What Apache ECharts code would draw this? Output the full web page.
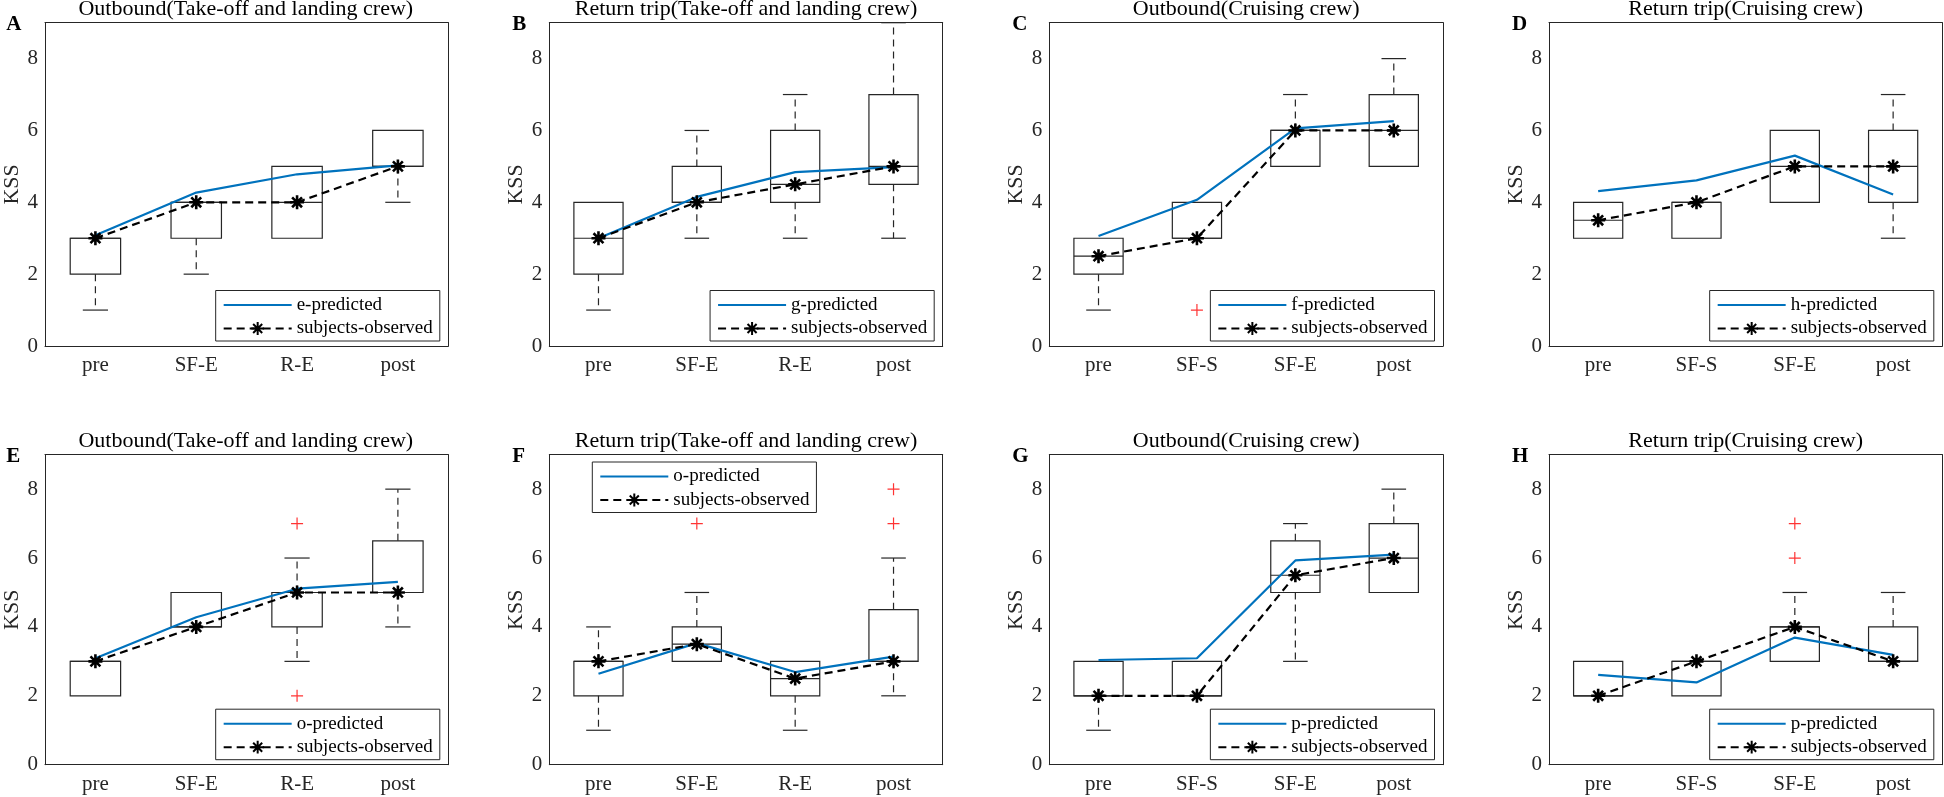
<!DOCTYPE html>
<html><head><meta charset="utf-8">
<script src="https://cdn.jsdelivr.net/npm/echarts@6/dist/echarts.min.js"></script>
<style>html,body{margin:0;padding:0;background:#fff}#c{width:1944px;height:797px}</style>
</head><body><div id="c"></div>
<script>
// ---------------- data ----------------
const catsTL = ['pre', 'SF-E', 'R-E', 'post'];
const catsCR = ['pre', 'SF-S', 'SF-E', 'post'];
const panelCats = [catsTL, catsTL, catsCR, catsCR, catsTL, catsTL, catsCR, catsCR];
const panelTitles = [
  'Outbound(Take-off and landing crew)', 'Return trip(Take-off and landing crew)',
  'Outbound(Cruising crew)', 'Return trip(Cruising crew)',
  'Outbound(Take-off and landing crew)', 'Return trip(Take-off and landing crew)',
  'Outbound(Cruising crew)', 'Return trip(Cruising crew)'
];
const panelLetters = ['A', 'B', 'C', 'D', 'E', 'F', 'G', 'H'];
const predictedNames = ['e-predicted', 'g-predicted', 'f-predicted', 'h-predicted',
  'o-predicted', 'o-predicted', 'p-predicted', 'p-predicted'];
const observedName = 'subjects-observed';
const yAxisName = 'KSS';

// box statistics per category: [lower whisker, q1, median, q3, upper whisker]
const boxA = [[1, 2, 3, 3, 3], [2, 3, 4, 4, 4], [3, 3, 4, 5, 5], [4, 5, 5, 6, 6]];
const boxB = [[1, 2, 3, 4, 4], [3, 4, 4, 5, 6], [3, 4, 4.5, 6, 7], [3, 4.5, 5, 7, 9]];
const boxC = [[1, 2, 2.5, 3, 3], [3, 3, 3, 4, 4], [5, 5, 6, 6, 7], [5, 5, 6, 7, 8]];
const boxD = [[3, 3, 3.5, 4, 4], [3, 3, 4, 4, 4], [4, 4, 5, 6, 6], [3, 4, 5, 6, 7]];
const boxE = [[2, 2, 3, 3, 3], [4, 4, 4, 5, 5], [3, 4, 5, 5, 6], [4, 5, 5, 6.5, 8]];
const boxF = [[1, 2, 3, 3, 4], [3, 3, 3.5, 4, 5], [1, 2, 2.5, 3, 3], [2, 3, 3, 4.5, 6]];
const boxG = [[1, 2, 2, 3, 3], [2, 2, 2, 3, 3], [3, 5, 5.5, 6.5, 7], [5, 5, 6, 7, 8]];
const boxH = [[2, 2, 2, 3, 3], [2, 2, 3, 3, 3], [3, 3, 4, 4, 5], [3, 3, 3, 4, 5]];

// model predictions (blue)
const predA = [3.08, 4.27, 4.78, 5.03];
const predB = [3.00, 4.15, 4.84, 4.98];
const predC = [3.06, 4.07, 6.06, 6.26];
const predD = [4.31, 4.61, 5.30, 4.22];
const predE = [3.09, 4.28, 5.11, 5.31];
const predF = [2.64, 3.53, 2.69, 3.14];
const predG = [3.04, 3.09, 5.93, 6.10];
const predH = [2.61, 2.39, 3.69, 3.19];

// observed medians (black dashed with asterisks)
const obsA = [3, 4, 4, 5];
const obsB = [3, 4, 4.5, 5];
const obsC = [2.5, 3, 6, 6];
const obsD = [3.5, 4, 5, 5];
const obsE = [3, 4, 5, 5];
const obsF = [3, 3.5, 2.5, 3];
const obsG = [2, 2, 5.5, 6];
const obsH = [2, 3, 4, 3];

// outliers: [category, value]
const outA = [];
const outB = [];
const outC = [['SF-S', 1]];
const outD = [];
const outE = [['R-E', 7], ['R-E', 2]];
const outF = [['SF-E', 7], ['post', 7], ['post', 8]];
const outG = [];
const outH = [['SF-E', 6], ['SF-E', 7]];

const yMin = 0, yMax = 9, yInterval = 2;

const boxes = [boxA, boxB, boxC, boxD, boxE, boxF, boxG, boxH];
const preds = [predA, predB, predC, predD, predE, predF, predG, predH];
const obss = [obsA, obsB, obsC, obsD, obsE, obsF, obsG, obsH];
const outs = [outA, outB, outC, outD, outE, outF, outG, outH];

// ---------------- layout & style ----------------
const W = 1944, H = 797;
const FONT = "'Liberation Serif', 'Times New Roman', serif";
const AX = '#262626';
const BLUE = '#0072BD';
const colLeft = [43.3, 549.3, 1049.3, 1549];
const colWidth = [405, 393.4, 393.7, 393.3];
const rowTop = [22.7, 454.7];
const rowHeight = [323.3, 310];
const legendTopLeft = [false, false, false, false, false, true, false, false];

const STAR = 'path://M0,-10L0,10M-10,0L10,0M-7.07,-7.07L7.07,7.07M-7.07,7.07L7.07,-7.07';
const PLUS = 'path://M0,-10L0,10M-10,0L10,0';

function renderBox(params, api) {
  const xi = api.value(0);
  const lo = api.value(1), q1 = api.value(2), md = api.value(3), q3 = api.value(4), hi = api.value(5);
  const band = api.size([1, 0])[0];
  const bw = band * 0.5, cw = band * 0.25;
  const cx = api.coord([xi, md])[0];
  const Y = v => api.coord([xi, v])[1];
  const solid = { stroke: AX, lineWidth: 1.2, fill: null };
  const dash = { stroke: AX, lineWidth: 1.2, lineDash: [7, 5] };
  const ch = [
    { type: 'rect', shape: { x: cx - bw / 2, y: Y(q3), width: bw, height: Y(q1) - Y(q3) }, style: Object.assign({}, solid, { fill: 'rgba(0,0,0,0)' }) },
    { type: 'line', shape: { x1: cx - bw / 2, y1: Y(md), x2: cx + bw / 2, y2: Y(md) }, style: solid }
  ];
  if (hi > q3) {
    ch.push({ type: 'line', shape: { x1: cx, y1: Y(q3), x2: cx, y2: Y(hi) }, style: dash });
    ch.push({ type: 'line', shape: { x1: cx - cw / 2, y1: Y(hi), x2: cx + cw / 2, y2: Y(hi) }, style: solid });
  }
  if (lo < q1) {
    ch.push({ type: 'line', shape: { x1: cx, y1: Y(q1), x2: cx, y2: Y(lo) }, style: dash });
    ch.push({ type: 'line', shape: { x1: cx - cw / 2, y1: Y(lo), x2: cx + cw / 2, y2: Y(lo) }, style: solid });
  }
  return { type: 'group', children: ch };
}

const grid = [], xAxis = [], yAxis = [], series = [], title = [], legend = [];
for (let i = 0; i < 8; i++) {
  const c = i % 4, r = Math.floor(i / 4);
  const g = { left: colLeft[c], top: rowTop[r], width: colWidth[c], height: rowHeight[r] };
  grid.push(g);
  const cats = panelCats[i];
  const lineX = { show: true, onZero: false, lineStyle: { color: AX, width: 1 } };
  xAxis.push({
    type: 'category', gridIndex: i, data: cats, position: 'bottom', boundaryGap: true,
    axisLine: lineX, axisTick: { inside: true, alignWithLabel: true, length: 5, lineStyle: { color: AX } },
    axisLabel: { fontFamily: FONT, fontSize: 21, color: AX, margin: 9 }, splitLine: { show: false }
  });
  xAxis.push({
    type: 'category', gridIndex: i, data: cats, position: 'top', boundaryGap: true,
    axisLine: lineX, axisTick: { inside: true, alignWithLabel: true, length: 5, lineStyle: { color: AX } },
    axisLabel: { show: false }, splitLine: { show: false }
  });
  yAxis.push({
    type: 'value', gridIndex: i, min: yMin, max: yMax, interval: yInterval, position: 'left',
    name: yAxisName, nameLocation: 'middle', nameGap: 22,
    nameTextStyle: { fontFamily: FONT, fontSize: 22, color: AX },
    axisLine: lineX, axisTick: { inside: true, length: 5, lineStyle: { color: AX } },
    axisLabel: { fontFamily: FONT, fontSize: 21, color: AX, margin: 7, formatter: v => (v % yInterval === 0 ? String(v) : '') },
    splitLine: { show: false }
  });
  yAxis.push({
    type: 'value', gridIndex: i, min: yMin, max: yMax, interval: yInterval, position: 'right',
    axisLine: lineX, axisTick: { inside: true, length: 5, lineStyle: { color: AX } },
    axisLabel: { show: false }, splitLine: { show: false }
  });
  const xa = 2 * i, ya = 2 * i;
  series.push({
    type: 'custom', xAxisIndex: xa, yAxisIndex: ya, renderItem: renderBox, z: 1,
    encode: { x: 0, y: [1, 2, 3, 4, 5] },
    data: boxes[i].map((b, k) => [k].concat(b)), silent: true
  });
  series.push({
    type: 'line', name: predictedNames[i], xAxisIndex: xa, yAxisIndex: ya, z: 3,
    data: preds[i], symbol: 'circle', symbolSize: 0, showSymbol: false,
    lineStyle: { color: BLUE, width: 2.2 }, itemStyle: { color: 'rgba(0,0,0,0)', borderWidth: 0 }
  });
  series.push({
    type: 'line', name: observedName, xAxisIndex: xa, yAxisIndex: ya, z: 4,
    data: obss[i], symbol: STAR, symbolSize: 14,
    lineStyle: { color: '#000', width: 2.2, type: [8, 5] },
    itemStyle: { color: '#000', borderColor: '#000', borderWidth: 2.6 }
  });
  if (outs[i].length) {
    series.push({
      type: 'scatter', xAxisIndex: xa, yAxisIndex: ya, z: 5,
      data: outs[i].map(o => [cats.indexOf(o[0]), o[1]]), symbol: PLUS, symbolSize: 12,
      itemStyle: { color: '#ff0000', borderColor: '#ff0000', borderWidth: 1.2 }
    });
  }
  title.push({
    text: panelTitles[i], left: g.left + g.width / 2, top: g.top - 13.4,
    textAlign: 'center', textVerticalAlign: 'middle', padding: 0,
    textStyle: { fontFamily: FONT, fontSize: 22, fontWeight: 'normal', color: '#000' }
  });
  title.push({
    text: panelLetters[i], left: g.left - 37, top: g.top + 2,
    textAlign: 'left', textVerticalAlign: 'middle', padding: 0,
    textStyle: { fontFamily: FONT, fontSize: 21, fontWeight: 'bold', color: '#000' }
  });
  const lg = {
    orient: 'vertical', data: [predictedNames[i], observedName],
    itemWidth: 68, itemHeight: 16, itemGap: 4.5, selectedMode: false,
    padding: [5, 7, 3, 7], borderColor: AX, borderWidth: 1, backgroundColor: '#fff',
    textStyle: { fontFamily: FONT, fontSize: 19, color: '#000' }
  };
  if (legendTopLeft[i]) {
    lg.left = g.left + 43; lg.top = g.top + 7.3;
  } else {
    lg.right = W - (g.left + g.width) + 8.5; lg.bottom = H - (g.top + g.height) + 5;
  }
  legend.push(lg);
}

const chart = echarts.init(document.getElementById('c'), null, { renderer: 'canvas', width: W, height: H });
chart.setOption({
  animation: false, backgroundColor: '#fff',
  title, legend, grid, xAxis, yAxis, series
});
</script></body></html>
